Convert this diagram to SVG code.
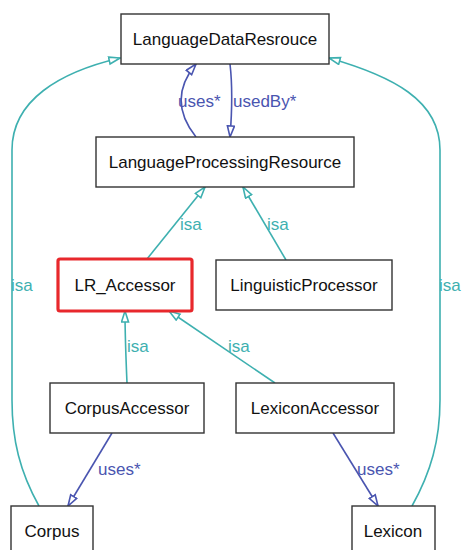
<svg xmlns="http://www.w3.org/2000/svg" width="462" height="550" viewBox="0 0 462 550">
<style>
.box{fill:#fff;stroke:#333;stroke-width:1.4}
.sel{fill:#fff;stroke:#e8282c;stroke-width:3.2}
.t{font-family:"Liberation Sans",Arial,sans-serif;font-size:17px;fill:#111;text-anchor:middle}
.isa{fill:none;stroke:#3eb0b0;stroke-width:1.6}
.use{fill:none;stroke:#4a55b0;stroke-width:1.6}
.li{font-family:"Liberation Sans",Arial,sans-serif;font-size:17px;fill:#3eb0b0}
.lu{font-family:"Liberation Sans",Arial,sans-serif;font-size:17px;fill:#4a55b0}
</style>
<defs>
<marker id="ai" markerUnits="userSpaceOnUse" markerWidth="14" markerHeight="10" refX="12" refY="4.5" orient="auto" viewBox="0 0 14 10">
<path d="M1,1 L12,4.5 L1,8 z" fill="#fff" stroke="#3eb0b0" stroke-width="1.6"/>
</marker>
<marker id="au" markerUnits="userSpaceOnUse" markerWidth="14" markerHeight="10" refX="12" refY="4.5" orient="auto" viewBox="0 0 14 10">
<path d="M1,1 L12,4.5 L1,8 z" fill="#fff" stroke="#4a55b0" stroke-width="1.6"/>
</marker>
</defs>
<g id="edges">
<path class="use" d="M196,137 C176,112 176,88 196,64" marker-end="url(#au)"/>
<path class="use" d="M230,64 C233,90 232,112 230,137" marker-end="url(#au)"/>
<path class="isa" d="M147,259 L205,187" marker-end="url(#ai)"/>
<path class="isa" d="M286,260 L243,187" marker-end="url(#ai)"/>
<path class="isa" d="M39,506 C20,472 12,440 12,400 L12,150 C12,100 60,72 120,58" marker-end="url(#ai)"/>
<path class="isa" d="M412,506 C431,472 440,440 440,400 L440,150 C440,100 392,76 329,58" marker-end="url(#ai)"/>
<path class="isa" d="M127,383 C126,360 125,335 125,311" marker-end="url(#ai)"/>
<path class="isa" d="M275,383 L169,311" marker-end="url(#ai)"/>
<path class="use" d="M112,433 L68,506" marker-end="url(#au)"/>
<path class="use" d="M333,433 L378,506" marker-end="url(#au)"/>
<text class="lu" x="178" y="107">uses*</text>
<text class="lu" x="233" y="107">usedBy*</text>
<text class="li" x="180" y="230">isa</text>
<text class="li" x="267" y="230">isa</text>
<text class="li" x="11" y="291">isa</text>
<text class="li" x="439" y="291">isa</text>
<text class="li" x="127" y="352">isa</text>
<text class="li" x="228" y="352">isa</text>
<text class="lu" x="98" y="475">uses*</text>
<text class="lu" x="357" y="475">uses*</text>
</g>
<g id="LanguageDataResrouce"><rect class="box" x="121" y="14" width="208" height="50"/><text class="t" x="225" y="45">LanguageDataResrouce</text></g>
<g id="LanguageProcessingResource"><rect class="box" x="96" y="137" width="258" height="50"/><text class="t" x="225" y="168">LanguageProcessingResource</text></g>
<g id="LR_Accessor"><rect class="sel" x="58" y="259" width="134" height="52" rx="2"/><text class="t" x="125" y="291">LR_Accessor</text></g>
<g id="LinguisticProcessor"><rect class="box" x="216" y="260" width="176" height="50"/><text class="t" x="304" y="291">LinguisticProcessor</text></g>
<g id="CorpusAccessor"><rect class="box" x="50" y="383" width="154" height="50"/><text class="t" x="127" y="414">CorpusAccessor</text></g>
<g id="LexiconAccessor"><rect class="box" x="236" y="383" width="158" height="50"/><text class="t" x="315" y="414">LexiconAccessor</text></g>
<g id="Corpus"><rect class="box" x="11" y="506" width="82" height="50"/><text class="t" x="52" y="537">Corpus</text></g>
<g id="Lexicon"><rect class="box" x="352" y="506" width="83" height="50"/><text class="t" x="393" y="537">Lexicon</text></g>
</svg>
